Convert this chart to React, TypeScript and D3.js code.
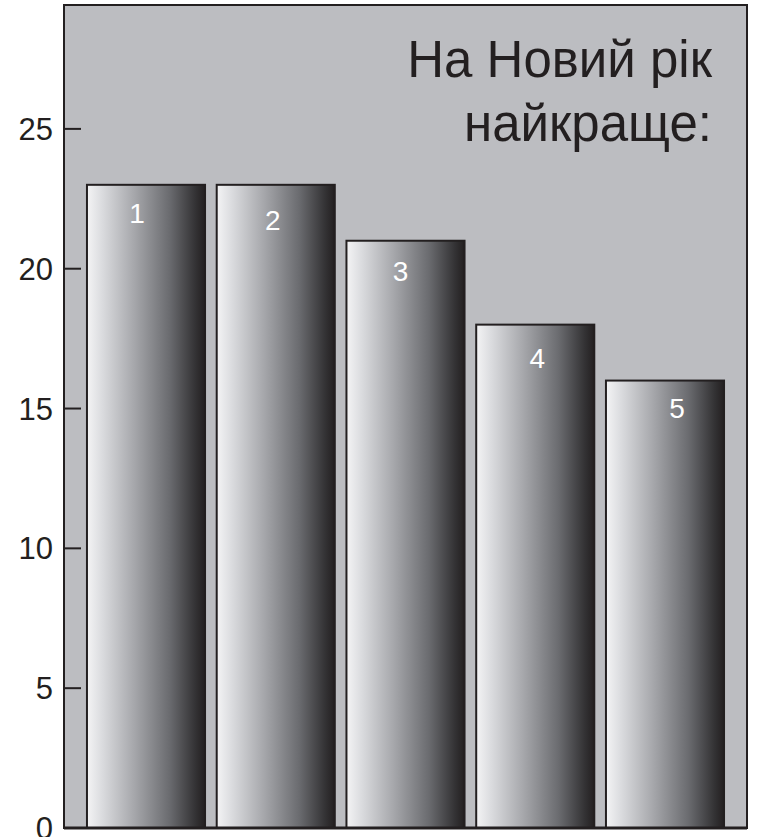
import React from "react";
import * as d3 from "d3";

const categories = ["1", "2", "3", "4", "5"];
const values = [23, 23, 21, 18, 16];
const yTicks = [0, 5, 10, 15, 20, 25];
const titleLines = ["На Новий рік", "найкраще:"];

export default function App() {
  const W = 758;
  const H = 837;
  const left = 64;
  const right = 747;
  const top = 5;
  const bottom = 828;
  const x = d3
    .scaleBand<string>()
    .domain(categories)
    .range([left, right])
    .paddingInner(0.09)
    .paddingOuter(0.177);
  const y = d3.scaleLinear().domain([0, 29.43]).range([bottom, top]);
  const labelDx = [-9, -3, -5, 2, 12];
  const labelDy = [28, 35, 30, 33, 27];
  const font = "'Liberation Sans', Arial, sans-serif";
  const ink = "#231f20";
  return (
    <svg
      width={W}
      height={H}
      style={{ position: "absolute", left: 0, top: 0, background: "#fff" }}
    >
      <defs>
        <linearGradient id="barGrad" x1="0" x2="1" y1="0" y2="0">
          <stop offset="0" stopColor="#f4f4f5" />
          <stop offset="0.12" stopColor="#dcdde0" />
          <stop offset="0.4" stopColor="#a6a7ab" />
          <stop offset="0.7" stopColor="#6a6b6f" />
          <stop offset="0.92" stopColor="#333234" />
          <stop offset="1" stopColor="#231f20" />
        </linearGradient>
      </defs>
      <rect x={left} y={top} width={right - left} height={bottom - top} fill="#bcbdc1" stroke={ink} strokeWidth={2} />
      {values.map((v, i) => {
        const bx = x(categories[i])!;
        const bw = x.bandwidth();
        const by = y(v);
        return (
          <g key={i}>
            <rect x={bx} y={by} width={bw} height={bottom - by} fill="url(#barGrad)" stroke={ink} strokeWidth={2} />
            <text
              x={bx + bw / 2 + labelDx[i]}
              y={by + labelDy[i] + 10}
              textAnchor="middle"
              fill="#fff"
              fontFamily={font}
              fontSize={28}
            >
              {categories[i]}
            </text>
          </g>
        );
      })}
      <line x1={left} x2={right} y1={bottom} y2={bottom} stroke={ink} strokeWidth={3} />
      <line x1={left} x2={left} y1={top} y2={bottom} stroke={ink} strokeWidth={2} />
      {yTicks.map((t) => (
        <g key={t}>
          {t > 0 && <line x1={left} x2={left + 17} y1={y(t)} y2={y(t)} stroke={ink} strokeWidth={2} />}
          <text x={53} y={y(t) + 11} textAnchor="end" fill={ink} fontFamily={font} fontSize={31}>
            {t}
          </text>
        </g>
      ))}
      {titleLines.map((line, i) => (
        <text key={i} x={712} y={77 + i * 64} textAnchor="end" fill={ink} fontFamily={font} fontSize={51}>
          {line}
        </text>
      ))}
    </svg>
  );
}
